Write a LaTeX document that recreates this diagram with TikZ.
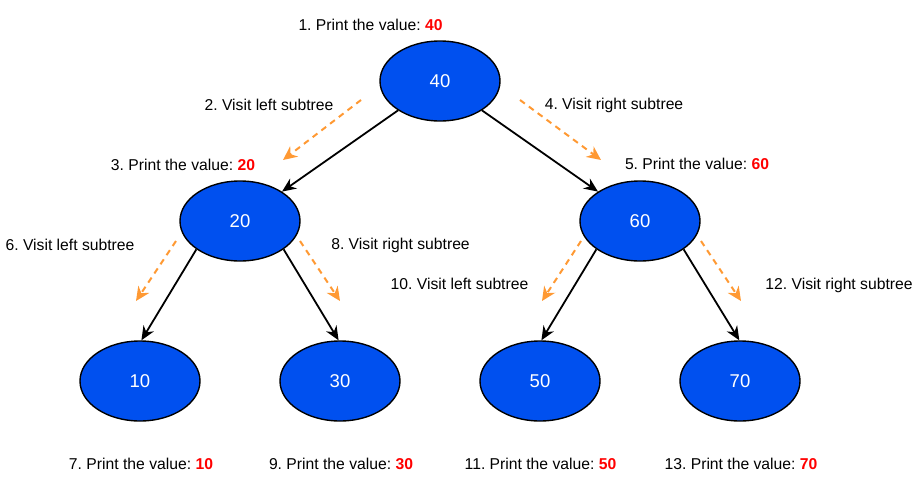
\documentclass[tikz,border=0pt]{standalone}
\usepackage{fontspec}
\setmainfont{Liberation Sans}
\usetikzlibrary{shapes.geometric,arrows.meta}
\definecolor{nodeblue}{HTML}{0050EF}
\definecolor{trav}{HTML}{FF9933}
\definecolor{valred}{HTML}{FF0000}
\newcommand{\val}[1]{\textbf{\textcolor{valred}{#1}}}
\frenchspacing
\begin{document}
\begin{tikzpicture}[x=1pt,y=-1pt,
  tnode/.style={ellipse,draw=black,line width=1.4pt,fill=nodeblue,minimum width=120pt,minimum height=80pt,inner sep=0pt,text=white,font=\fontsize{18.5}{22}\selectfont},
  lbl/.style={font=\fontsize{15.7}{18}\selectfont,inner sep=0pt,anchor=base},
  edge/.style={draw=black,line width=1.8pt,-{Stealth[length=14pt,width=12pt,inset=4.5pt]}},
  visit/.style={draw=trav,line width=2pt,dash pattern=on 6pt off 5pt,-{Stealth[length=14pt,width=13pt,inset=4.5pt]}}]
\useasboundingbox (0,0) rectangle (918,482);

% tree nodes
\node[tnode] (n40) at (440,81) {40};
\node[tnode] (n20) at (240,221) {20};
\node[tnode] (n60) at (640,221) {60};
\node[tnode] (n10) at (140,381) {10};
\node[tnode] (n30) at (340,381) {30};
\node[tnode] (n50) at (540,381) {50};
\node[tnode] (n70) at (740,381) {70};

% labels
\node[lbl] (l1) at (370.5,30) {1. Print the value: \val{40}};
\node[lbl] (l2) at (269,110) {2. Visit left subtree};
\node[lbl] (l3) at (183,170) {3. Print the value: \val{20}};
\node[lbl] (l4) at (614,109) {4. Visit right subtree};
\node[lbl] (l5) at (697,169) {5. Print the value: \val{60}};
\node[lbl] (l6) at (70,250) {6. Visit left subtree};
\node[lbl] (l7) at (141,469) {7. Print the value: \val{10}};
\node[lbl] (l8) at (400.5,249) {8. Visit right subtree};
\node[lbl] (l9) at (341,469) {9. Print the value: \val{30}};
\node[lbl] (l10) at (459.5,289) {10. Visit left subtree};
\node[lbl] (l11) at (540.5,469) {11. Print the value: \val{50}};
\node[lbl] (l12) at (839,289) {12. Visit right subtree};
\node[lbl] (l13) at (741,469) {13. Print the value: \val{70}};

% tree edges
\draw[edge] (n40) -- (n20);
\draw[edge] (n40) -- (n60);
\draw[edge] (n20.213) -- (n10.88);
\draw[edge] (n20.327) -- (n30.92);
\draw[edge] (n60.213) -- (n50.88);
\draw[edge] (n60.327) -- (n70.91);

% traversal arrows
\coordinate (o1s) at (361,100); \coordinate (o1e) at (283,160);
\coordinate (o2s) at (520,100); \coordinate (o2e) at (601,160);
\coordinate (o3s) at (176,241); \coordinate (o3e) at (136,301);
\coordinate (o4s) at (300,241); \coordinate (o4e) at (340,301);
\coordinate (o5s) at (581,241); \coordinate (o5e) at (542,301);
\coordinate (o6s) at (701,241); \coordinate (o6e) at (741,301);
\draw[visit] (o1s) -- (o1e);
\draw[visit] (o2s) -- (o2e);
\draw[visit] (o3s) -- (o3e);
\draw[visit] (o4s) -- (o4e);
\draw[visit] (o5s) -- (o5e);
\draw[visit] (o6s) -- (o6e);
\end{tikzpicture}
\end{document}
